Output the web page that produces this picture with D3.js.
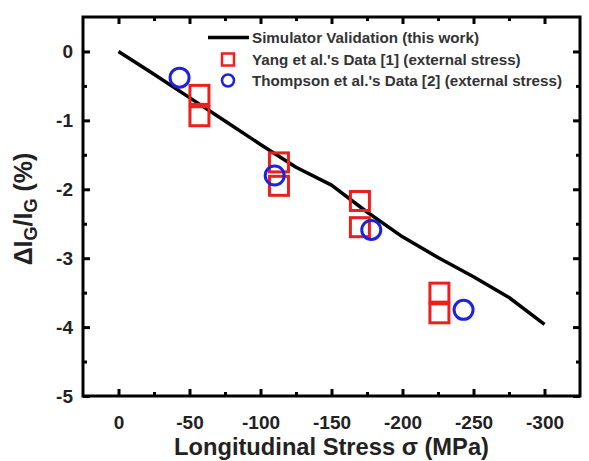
<!DOCTYPE html>
<html>
<head>
<meta charset="utf-8">
<script src="https://cdn.jsdelivr.net/npm/d3@7"></script>
<style>
  body { margin: 0; background: #fff; }
  svg text { font-family: "Liberation Sans", Arial, sans-serif; font-weight: bold; }
</style>
</head>
<body>
<div id="chart"></div>
<script>
// simulator curve
var simStress = [0, -25, -50, -75, -100, -125, -150, -175, -200, -225, -250, -275, -300];
var simDelta = [0, -0.33, -0.67, -1.01, -1.35, -1.68, -1.94, -2.33, -2.69, -2.99, -3.27, -3.57, -3.96];

// Yang et al. data [1]
var yangStress = [-57, -57, -113, -113, -170, -170, -226, -226];
var yangDelta = [-0.63, -0.94, -1.61, -1.95, -2.17, -2.55, -3.50, -3.80];

// Thompson et al. data [2]
var thompsonStress = [-43, -110, -178, -243];
var thompsonDelta = [-0.38, -1.80, -2.59, -3.75];

var xTicks = [0, -50, -100, -150, -200, -250, -300];
var xMinor = [-25, -75, -125, -175, -225, -275];
var yTicks = [0, -1, -2, -3, -4, -5];
var yMinor = [-0.5, -1.5, -2.5, -3.5, -4.5];

var legendLabels = ['Simulator Validation (this work)',
                    "Yang et al.'s Data [1] (external stress)",
                    "Thompson et al.'s Data [2] (external stress)"];

var w = 589;
var h = 461;
var margin = ({top: 17, right: 9, bottom: 65, left: 83});
var red = '#ec1f1f';
var blue = '#1c22e0';

var x = d3.scaleLinear()
     .domain([25, -325])
     .range([margin.left, w - margin.right]);

var y = d3.scaleLinear()
     .domain([0.5, -5])
     .range([margin.top, h - margin.bottom]);

var svg = d3.select('#chart')
     .append('svg')
     .attr('width', w)
     .attr('height', h);

// plain hyphen minus, like the original
var fmt = d => String(d);

function styleAxis(g) {
  g.select('.domain').remove();
  g.selectAll('.tick line').attr('stroke', '#000').attr('stroke-width', 3);
  g.selectAll('.tick text').attr('fill', '#222').attr('font-size', 19);
}

// bottom axis (ticks inside)
svg.append('g')
     .attr('transform', 'translate(0,' + (h - margin.bottom) + ')')
     .call(d3.axisBottom(x).tickValues(xTicks).tickSizeInner(-7).tickPadding(20).tickFormat(fmt))
     .call(styleAxis);
svg.append('g')
     .attr('transform', 'translate(0,' + (h - margin.bottom) + ')')
     .call(d3.axisBottom(x).tickValues(xMinor).tickSizeInner(-4).tickFormat(''))
     .call(styleAxis);
// top mirror
svg.append('g')
     .attr('transform', 'translate(0,' + margin.top + ')')
     .call(d3.axisTop(x).tickValues(xTicks).tickSizeInner(-7).tickFormat(''))
     .call(styleAxis);
svg.append('g')
     .attr('transform', 'translate(0,' + margin.top + ')')
     .call(d3.axisTop(x).tickValues(xMinor).tickSizeInner(-4).tickFormat(''))
     .call(styleAxis);

// left axis
svg.append('g')
     .attr('transform', 'translate(' + margin.left + ',0)')
     .call(d3.axisLeft(y).tickValues(yTicks).tickSizeInner(-7).tickPadding(10).tickFormat(fmt))
     .call(styleAxis);
svg.append('g')
     .attr('transform', 'translate(' + margin.left + ',0)')
     .call(d3.axisLeft(y).tickValues(yMinor).tickSizeInner(-4).tickFormat(''))
     .call(styleAxis);
// right mirror
svg.append('g')
     .attr('transform', 'translate(' + (w - margin.right) + ',0)')
     .call(d3.axisRight(y).tickValues(yTicks).tickSizeInner(-7).tickFormat(''))
     .call(styleAxis);
svg.append('g')
     .attr('transform', 'translate(' + (w - margin.right) + ',0)')
     .call(d3.axisRight(y).tickValues(yMinor).tickSizeInner(-4).tickFormat(''))
     .call(styleAxis);

// frame
svg.append('rect')
     .attr('x', margin.left)
     .attr('y', margin.top)
     .attr('width', w - margin.left - margin.right)
     .attr('height', h - margin.top - margin.bottom)
     .attr('fill', 'none')
     .attr('stroke', '#000')
     .attr('stroke-width', 3);

// simulator line
var line = d3.line()
     .x((d, i) => x(simStress[i]))
     .y(d => y(d));

svg.append('path')
     .datum(simDelta)
     .attr('d', line)
     .attr('fill', 'none')
     .attr('stroke', '#000')
     .attr('stroke-width', 3.5)
     .attr('stroke-linejoin', 'round');

// Yang squares
var sq = 19;
svg.selectAll('rect.yang')
     .data(yangDelta)
     .enter()
     .append('rect')
     .attr('class', 'yang')
     .attr('x', (d, i) => x(yangStress[i]) - sq / 2)
     .attr('y', d => y(d) - sq / 2)
     .attr('width', sq)
     .attr('height', sq)
     .attr('fill', 'none')
     .attr('stroke', red)
     .attr('stroke-width', 3);

// Thompson circles
svg.selectAll('circle.thompson')
     .data(thompsonDelta)
     .enter()
     .append('circle')
     .attr('class', 'thompson')
     .attr('cx', (d, i) => x(thompsonStress[i]))
     .attr('cy', d => y(d))
     .attr('r', 9.5)
     .attr('fill', 'none')
     .attr('stroke', blue)
     .attr('stroke-width', 3);

// legend
var lg = svg.append('g');
var rowY = [37.5, 59.5, 80.5];
lg.append('line')
     .attr('x1', 208).attr('x2', 249)
     .attr('y1', rowY[0]).attr('y2', rowY[0])
     .attr('stroke', '#000').attr('stroke-width', 3.5);
lg.append('rect')
     .attr('x', 228 - 6).attr('y', rowY[1] - 6)
     .attr('width', 12).attr('height', 12)
     .attr('fill', 'none').attr('stroke', red).attr('stroke-width', 2.5);
lg.append('circle')
     .attr('cx', 228).attr('cy', rowY[2])
     .attr('r', 6)
     .attr('fill', 'none').attr('stroke', blue).attr('stroke-width', 2.5);
lg.selectAll('text')
     .data(legendLabels)
     .enter()
     .append('text')
     .attr('x', 252)
     .attr('y', (d, i) => rowY[i] + 5)
     .attr('font-size', 15.2)
     .attr('fill', '#333')
     .text(d => d);

// axis titles
svg.append('text')
     .attr('x', (margin.left + w - margin.right) / 2)
     .attr('y', 455)
     .attr('text-anchor', 'middle')
     .attr('font-size', 23.7)
     .attr('fill', '#222')
     .text('Longitudinal Stress \u03c3 (MPa)');

var yTitle = svg.append('text')
     .attr('transform', 'translate(32,209) rotate(-90)')
     .attr('text-anchor', 'middle')
     .attr('font-size', 25)
     .attr('fill', '#222');
yTitle.append('tspan').text('\u0394I');
yTitle.append('tspan').attr('font-size', 18).attr('dy', 5).text('G');
yTitle.append('tspan').attr('dy', -5).text('/I');
yTitle.append('tspan').attr('font-size', 18).attr('dy', 5).text('G');
yTitle.append('tspan').attr('dy', -5).text(' (%)');
</script>
</body>
</html>
